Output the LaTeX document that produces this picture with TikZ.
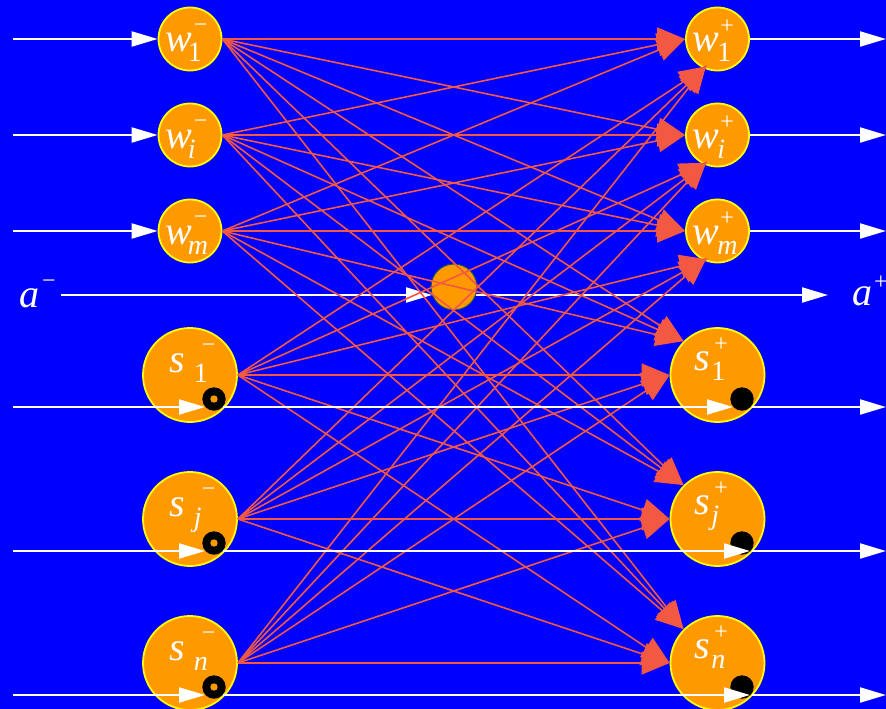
\documentclass[tikz,border=0pt]{standalone}
\usepackage{fontspec}
\setmainfont{Liberation Serif}
\usetikzlibrary{arrows.meta,calc}
\definecolor{bgblue}{RGB}{0,0,255}
\definecolor{nodeorange}{RGB}{255,153,0}
\definecolor{rimyellow}{RGB}{255,255,0}
\definecolor{linkred}{RGB}{242,88,66}
\definecolor{hubrim}{RGB}{20,80,90}
\newcommand{\nodelabel}[6]{%
  {\fontsize{40}{40}\selectfont\itshape #1}%
  \kern#4pt%
  \raisebox{-10pt}{\rlap{\fontsize{28}{28}\selectfont #2}}%
  \kern#5pt%
  \raisebox{#6pt}{\fontsize{24}{24}\selectfont #3}}
\begin{document}
\begin{tikzpicture}[x=1pt,y=-1pt,
  wnode/.style={circle, fill=nodeorange, draw=rimyellow, line width=1.8pt, minimum size=63pt, inner sep=0pt},
  snode/.style={wnode, minimum size=94pt},
  hub/.style={circle, fill=nodeorange, draw=hubrim, line width=1pt, minimum size=46pt, inner sep=0pt},
  lbl/.style={text=white, inner sep=0pt, anchor=base west},
  flow/.style={white, line width=2.2pt, -{Triangle[length=26pt,width=15pt]}},
  link/.style={linkred, line width=1.6pt, -{Triangle[length=28pt,width=23pt]}},
  dot/.style={circle, fill=black, minimum size=23.4pt, inner sep=0pt},
  hole/.style={circle, fill=nodeorange, minimum size=7.4pt, inner sep=0pt},
]
\fill[bgblue] (0,0) rectangle (886,709);
\useasboundingbox (0,0) rectangle (886,709);

% a line
\coordinate (aStart) at (61,295);
\coordinate (hubIn) at (432,295);
\coordinate (hubOut) at (476,295);
\coordinate (aEnd) at (828,295);
\draw[flow] (aStart) -- (hubIn);
\draw[flow] (hubOut) -- (aEnd);
\node[hub] (hub) at (454,287) {};

% nodes
\node[wnode] (wL1) at (190,39) {};
\node[wnode] (wLi) at (190,135) {};
\node[wnode] (wLm) at (190,231) {};
\node[wnode] (wR1) at (717.5,39) {};
\node[wnode] (wRi) at (717.5,135) {};
\node[wnode] (wRm) at (717.5,231) {};
\node[snode] (sL1) at (190,375) {};
\node[snode] (sLj) at (190,519) {};
\node[snode] (sLn) at (190,663) {};
\node[snode] (sR1) at (717.5,375) {};
\node[snode] (sRj) at (717.5,519) {};
\node[snode] (sRn) at (717.5,663) {};

% labels
\node[lbl] (lwL1) at ($(wL1.center)+(-25,13)$) {\nodelabel{w}{1}{−}{-4}{6}{19.5}};
\node[lbl] (lwLi) at ($(wLi.center)+(-25,13)$) {\nodelabel{w}{\itshape i}{−}{-4}{6}{19.5}};
\node[lbl] (lwLm) at ($(wLm.center)+(-25,13)$) {\nodelabel{w}{\itshape m}{−}{-4}{6}{19.5}};
\node[lbl] (lwR1) at ($(wR1.center)+(-25,13)$) {\nodelabel{w}{1}{+}{-2}{3}{18.5}};
\node[lbl] (lwRi) at ($(wRi.center)+(-25,13)$) {\nodelabel{w}{\itshape i}{+}{-2}{3}{18.5}};
\node[lbl] (lwRm) at ($(wRm.center)+(-25,13)$) {\nodelabel{w}{\itshape m}{+}{-2}{3}{18.5}};
\node[lbl] (lsL1) at ($(sL1.center)+(-21,-3)$) {\nodelabel{s}{1}{−}{9}{8}{19.5}};
\node[lbl] (lsLj) at ($(sLj.center)+(-21,-3)$) {\nodelabel{s}{\itshape j}{−}{9}{8}{19.5}};
\node[lbl] (lsLn) at ($(sLn.center)+(-21,-3)$) {\nodelabel{s}{\itshape n}{−}{9}{8}{19.5}};
\node[lbl] (lsR1) at ($(sR1.center)+(-23,-5)$) {\nodelabel{s}{1}{+}{1}{3}{18.5}};
\node[lbl] (lsRj) at ($(sRj.center)+(-23,-5)$) {\nodelabel{s}{\itshape j}{+}{1}{3}{18.5}};
\node[lbl] (lsRn) at ($(sRn.center)+(-23,-5)$) {\nodelabel{s}{\itshape n}{+}{1}{3}{18.5}};
\node[lbl] (laIn) at (19,307) {{\fontsize{40}{40}\selectfont\itshape a}\kern3pt\raisebox{18.5pt}{\fontsize{24}{24}\selectfont −}};
\node[lbl] (laOut) at (852,305) {{\fontsize{40}{40}\selectfont\itshape a}\kern2pt\raisebox{15.5pt}{\fontsize{24}{24}\selectfont +}};

% links
\foreach \l in {wL1,wLi,wLm}{
  \foreach \r in {wR1,wRi,wRm}{\draw[link] (\l.east) -- (\r.west);}
  \foreach \r in {sR1,sRj,sRn}{\draw[link] (\l.east) -- (\r.north west);}
}
\foreach \l in {sL1,sLj,sLn}{
  \foreach \r in {wR1,wRi,wRm}{\draw[link, shorten >=-4pt] (\l.east) -- (\r.245);}
  \foreach \r in {sR1,sRj,sRn}{\draw[link] (\l.east) -- (\r.west);}
}

% dots
\foreach \n in {1,j,n}{
  \node[dot] (dL\n) at ($(sL\n.center)+(24,24)$) {};
  \node[hole] (hL\n) at (dL\n.center) {};
  \node[dot] (dR\n) at ($(sR\n.center)+(24.5,24)$) {};
}

% w flows
\foreach \n in {1,i,m}{
  \coordinate (inW\n) at ($(wL\n.center)+(-177,0)$);
  \coordinate (outW\n) at ($(wR\n.center)+(168.5,0)$);
  \draw[flow] (inW\n) -- (wL\n.west);
  \draw[flow] (wR\n.east) -- (outW\n);
}

% s flows
\foreach \n/\t in {1/733,j/750,n/750}{
  \coordinate (inS\n) at ($(sL\n.center)+(-177,32)$);
  \coordinate (tipL\n) at ($(sL\n.center)+(15,32)$);
  \coordinate (passL\n) at ($(sL\n.center)+(32.5,32)$);
  \coordinate (tipR\n) at ($(sR\n.center)+(\t-717.5,32)$);
  \coordinate (passR\n) at ($(sR\n.center)+(34.5,32)$);
  \coordinate (outS\n) at ($(sR\n.center)+(168.5,32)$);
  \draw[flow] (inS\n) -- (tipL\n);
  \draw[flow] (passL\n) -- (tipR\n);
  \draw[flow] (passR\n) -- (outS\n);
}
\end{tikzpicture}
\end{document}
